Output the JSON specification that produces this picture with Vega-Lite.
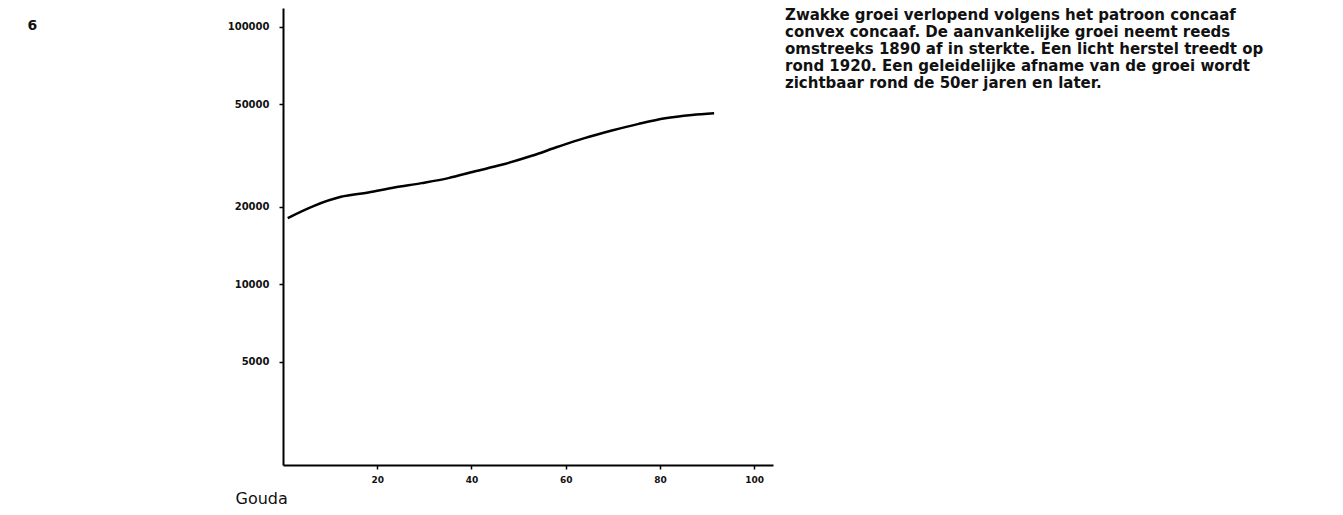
{
  "$schema": "https://vega.github.io/schema/vega-lite/v6.json",
  "width": 490,
  "height": 457,
  "autosize": "none",
  "padding": {"left": 283, "top": 8, "right": 570, "bottom": 50},
  "background": "white",
  "title": {
    "text": [
      "Zwakke groei verlopend volgens het patroon concaaf",
      "convex concaaf. De aanvankelijke groei neemt reeds",
      "omstreeks 1890 af in sterkte. Een licht herstel treedt op",
      "rond 1920. Een geleidelijke afname van de groei wordt",
      "zichtbaar rond de 50er jaren en later."
    ],
    "anchor": "start",
    "frame": "group",
    "orient": "top",
    "baseline": "top",
    "offset": 0,
    "dx": 502,
    "dy": 83,
    "font": "DejaVu Sans",
    "fontSize": 15,
    "fontWeight": "bold",
    "lineHeight": 17,
    "color": "#111111"
  },
  "config": {
    "view": {"stroke": null},
    "axis": {
      "domainColor": "black",
      "domainWidth": 2,
      "tickColor": "black",
      "tickWidth": 1.5,
      "tickSize": 4,
      "labelFont": "DejaVu Sans",
      "labelFontWeight": "bold",
      "labelColor": "#111111",
      "grid": false
    }
  },
  "data": {
    "values": [
      {"t": 1.0, "pop": 18110},
      {"t": 6.6, "pop": 20210},
      {"t": 12.3, "pop": 21900},
      {"t": 18.1, "pop": 22770},
      {"t": 23.6, "pop": 23800},
      {"t": 29.4, "pop": 24750},
      {"t": 35.1, "pop": 25880},
      {"t": 40.6, "pop": 27460},
      {"t": 46.4, "pop": 29150},
      {"t": 52.8, "pop": 31600},
      {"t": 58.5, "pop": 34330},
      {"t": 64.0, "pop": 37000},
      {"t": 69.8, "pop": 39600},
      {"t": 75.5, "pop": 42050},
      {"t": 81.1, "pop": 44220},
      {"t": 86.8, "pop": 45560},
      {"t": 91.5, "pop": 46260}
    ]
  },
  "mark": {"type": "line", "color": "black", "strokeWidth": 2.5, "interpolate": "monotone"},
  "encoding": {
    "x": {
      "field": "t",
      "type": "quantitative",
      "scale": {"domain": [0, 104], "nice": false, "zero": false},
      "axis": {
        "values": [20, 40, 60, 80, 100],
        "format": "d",
        "labelFontSize": 9,
        "labelPadding": 6,
        "title": "Gouda",
        "titleFont": "DejaVu Sans",
        "titleFontWeight": "normal",
        "titleFontSize": 16,
        "titleColor": "#111111",
        "titleAnchor": "start",
        "titleAlign": "left",
        "titleBaseline": "alphabetic",
        "titleX": -48,
        "titleY": 38
      }
    },
    "y": {
      "field": "pop",
      "type": "quantitative",
      "scale": {"type": "log", "domain": [1990, 118500], "nice": false},
      "axis": {
        "values": [5000, 10000, 20000, 50000, 100000],
        "format": "d",
        "labelFontSize": 10,
        "labelPadding": 10,
        "title": "6",
        "titleFont": "DejaVu Sans",
        "titleFontWeight": "bold",
        "titleFontSize": 14,
        "titleColor": "#111111",
        "titleAngle": 0,
        "titleAlign": "left",
        "titleBaseline": "middle",
        "titleX": -256,
        "titleY": 17
      }
    }
  }
}
